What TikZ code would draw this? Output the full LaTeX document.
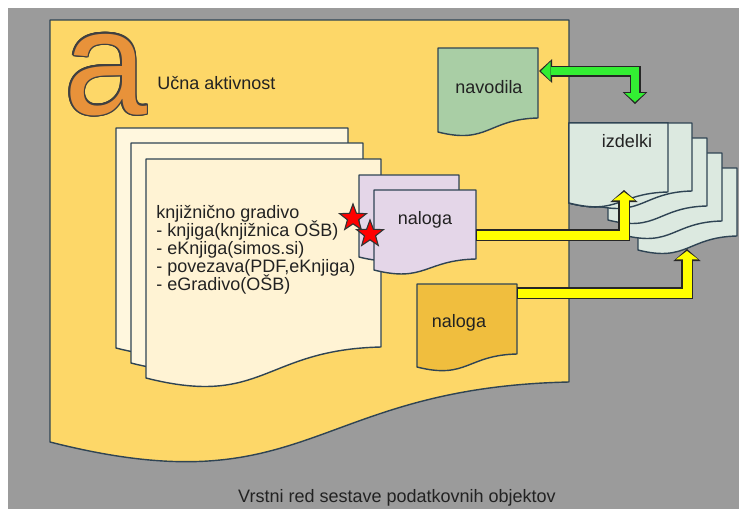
\documentclass[tikz,border=0pt]{standalone}
\usepackage{fontspec}
\setmainfont{Liberation Sans}
\usetikzlibrary{arrows.meta,shapes.geometric}

\definecolor{bggray}{HTML}{9B9B9B}
\definecolor{edge}{HTML}{2F4454}
\definecolor{ink}{HTML}{222222}
\definecolor{activity}{HTML}{FDD768}
\definecolor{letterorange}{HTML}{E8923A}
\definecolor{paper}{HTML}{FFF7DE}
\definecolor{paperfront}{HTML}{FFF3D4}
\definecolor{tasklilac}{HTML}{E4D6E8}
\definecolor{guidegreen}{HTML}{A9CEA5}
\definecolor{taskorange}{HTML}{F0BE3E}
\definecolor{productmint}{HTML}{DCE9E0}
\definecolor{arrowgreen}{HTML}{33EE33}
\definecolor{arrowyellow}{HTML}{FFFF00}

% sheet with a wavy lower edge: style, left, top, right, right bottom, left bottom
\newcommand{\wavedoc}[6]{%
  \path[#1] ({#2},{#3}) -- ({#4},{#3}) -- ({#4},{#5})
    .. controls ({((#2)+(#4))/2},{(#5)+0.011*((#4)-(#2))})
            and ({((#2)+(#4))/2},{(#6)+0.127*((#4)-(#2))}) .. ({#2},{#6}) -- cycle;}

\begin{document}
\begin{tikzpicture}[x=0.025cm,y=-0.025cm,font=\fontsize{12.8}{15}\selectfont,text=ink,
  doc/.style={draw=edge,line width=1pt,line join=round},
  doctext/.style={anchor=base,inner sep=0pt},
  bigletter/.style={anchor=base west,inner sep=0pt,font=\fontsize{106}{106}\selectfont},
  redstar/.style={star,star points=5,star point ratio=2.4,minimum size=0.7cm,inner sep=0pt,
    fill=red,draw=black!80,line width=0.8pt},
  fat outline/.style={draw=black!85,line join=miter},
  fat fill/.style={line join=miter}]
\useasboundingbox (0,0) rectangle (739,509);
\fill[bggray] (8,8) rectangle (739,509);

% learning activity
\wavedoc{doc,fill=activity}{50}{20}{569}{382}{442}
\coordinate (letterpos) at (64,114);
\foreach \ang [count=\k] in {0,22.5,...,337.5}
  \node[bigletter,text=black!75] (letteredge\k) at ([shift={(\ang:0.04cm)}]letterpos) {a};
\node[bigletter,text=letterorange] (letter) at (letterpos) {a};
\node[anchor=base west,inner sep=0pt] (title) at (157,89) {Učna aktivnost};

% library material
\wavedoc{doc,fill=paper}{116}{128}{348}{317}{348}
\wavedoc{doc,fill=paper}{131}{143}{363}{332}{363}
\wavedoc{doc,fill=paperfront}{146}{159}{381}{347}{378}
\foreach \t [count=\i] in {knjižnično gradivo,- knjiga(knjižnica OŠB),- eKnjiga(simos.si),
    {- povezava(PDF,eKnjiga)},- eGradivo(OŠB)}
  \node[anchor=base west,inner sep=0pt] (source\i) at (156,{218+18.2*(\i-1)}) {\t};

% tasks on the material
\wavedoc{doc,fill=tasklilac}{359}{175}{459}{244}{257}
\wavedoc{doc,fill=tasklilac}{374}{190}{476}{259}{270}
\node[doctext] (task1) at (425,224) {naloga};
\node[redstar] (star1) at (353,218) {};
\node[redstar] (star2) at (370,234) {};

% instructions
\wavedoc{doc,fill=guidegreen}{438}{48}{538}{118}{132}
\node[doctext] (guide) at (489,93) {navodila};

% second task
\wavedoc{doc,fill=taskorange}{417}{284}{517}{354}{367}
\node[doctext] (task2) at (459,327) {naloga};

% products
\foreach \k in {3,2,1,0}
  \wavedoc{doc,fill=productmint}{593+15*\k}{123+15*\k}{692+15*\k}{191+15*\k}{205+15*\k}
\wavedoc{doc,fill=productmint}{569}{123}{668}{192}{203}
\node[doctext] (products) at (627,147) {izdelki};

% connectors
\coordinate (guide-e) at (539,71);
\coordinate (prod-n) at (635,104);
\coordinate (task1-e) at (476,235);
\coordinate (prod-s1) at (624,190);
\coordinate (task2-e) at (517,293);
\coordinate (prod-s2) at (687,249);

\draw[fat outline,line width=0.275cm,
  {Triangle[length=0.33cm,width=0.6cm,line width=0pt]}-{Triangle[length=0.3cm,width=0.62cm,line width=0pt]}]
  (guide-e) -| (prod-n);
\draw[fat fill,arrowgreen,line width=0.2cm,shorten <=0.05cm,shorten >=0.05cm,
  {Triangle[length=0.24cm,width=0.48cm,line width=0pt]}-{Triangle[length=0.22cm,width=0.5cm,line width=0pt]}]
  (guide-e) -| (prod-n);

\foreach \from/\to in {task1-e/prod-s1,task2-e/prod-s2} {
  \draw[fat outline,line width=0.3cm,-{Triangle[length=0.3cm,width=0.68cm,line width=0pt]}]
    (\from) -| (\to);
  \draw[fat fill,arrowyellow,line width=0.225cm,shorten <=0.03cm,shorten >=0.05cm,
    -{Triangle[length=0.21cm,width=0.56cm,line width=0pt]}] (\from) -| (\to);
}

\node[doctext] (caption) at (397,502) {Vrstni red sestave podatkovnih objektov};
\end{tikzpicture}
\end{document}
